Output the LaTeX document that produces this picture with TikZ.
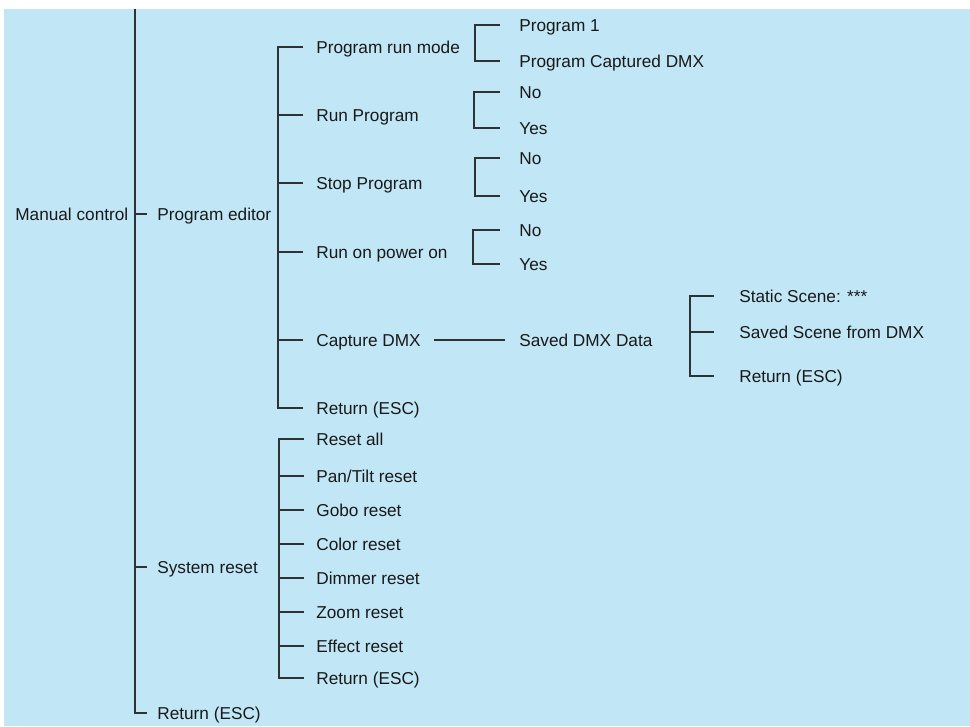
\documentclass[tikz,border=0pt]{standalone}
\usepackage{fontspec}
\setmainfont{Liberation Sans}
\definecolor{menublue}{RGB}{193,230,246}
\definecolor{menuline}{RGB}{45,50,55}
\definecolor{menutext}{RGB}{25,25,25}

\begin{document}
\begin{tikzpicture}[
    entry/.style={anchor=west, inner sep=0pt, text height=8pt, text depth=1pt,
        text=menutext, font=\fontsize{9.8}{11}\selectfont},
    stem/.style={draw=menuline, line width=0.8pt},
    branch/.style={stem, shorten >=#1}, branch/.default=0.26cm,
    bracket/.style={stem, shorten <=#1, shorten >=#1}, bracket/.default=0.26cm]

    % the background
    \useasboundingbox (0,0) rectangle (19.4,-14.52);
    \fill[menublue] (0.08,-0.18) rectangle (19.4,-14.52);

    % x positions of the brackets
    \coordinate (root) at (2.70,-0.18);
    \coordinate (peb) at (5.56,0);
    \coordinate (srb) at (5.58,0);
    \coordinate (prmb) at (9.50,0);
    \coordinate (rpb) at (9.48,0);
    \coordinate (spb) at (9.50,0);
    \coordinate (rob) at (9.46,0);
    \coordinate (sddb) at (13.80,0);

    % first levels
    \node[entry] (mc) at (0.30,-4.28) {Manual control};
    \node[entry] (pe) at (3.14,-4.28) {Program editor};
    \node[entry] (sr) at (3.14,-11.34) {System reset};
    \node[entry] (rt) at (3.14,-14.26) {Return (ESC)};

    % program editor items
    \node[entry] (prm) at (6.32,-0.94) {Program run mode};
    \node[entry] (rp) at (6.32,-2.30) {Run Program};
    \node[entry] (sp) at (6.32,-3.66) {Stop Program};
    \node[entry] (ro) at (6.32,-5.04) {Run on power on};
    \node[entry] (cd) at (6.32,-6.80) {Capture DMX};
    \node[entry] (r1) at (6.32,-8.16) {Return (ESC)};

    % the options
    \node[entry] (p1) at (10.38,-0.50) {Program 1};
    \node[entry] (pcd) at (10.38,-1.22) {Program Captured DMX};
    \node[entry] (rpno) at (10.38,-1.84) {No};
    \node[entry] (rpyes) at (10.38,-2.56) {Yes};
    \node[entry] (spno) at (10.38,-3.16) {No};
    \node[entry] (spyes) at (10.38,-3.92) {Yes};
    \node[entry] (rono) at (10.38,-4.60) {No};
    \node[entry] (royes) at (10.38,-5.28) {Yes};
    \node[entry] (sdd) at (10.38,-6.80) {Saved DMX Data};
    \node[entry] (ss) at (14.78,-5.92) {Static Scene: ***};
    \node[entry] (sf) at (14.78,-6.64) {Saved Scene from DMX};
    \node[entry] (r3) at (14.78,-7.52) {Return (ESC)};

    % system reset items
    \node[entry] (ra) at (6.32,-8.78) {Reset all};
    \node[entry] (pt) at (6.32,-9.52) {Pan/Tilt reset};
    \node[entry] (gr) at (6.32,-10.20) {Gobo reset};
    \node[entry] (cr) at (6.32,-10.88) {Color reset};
    \node[entry] (dr) at (6.32,-11.56) {Dimmer reset};
    \node[entry] (zr) at (6.32,-12.24) {Zoom reset};
    \node[entry] (er) at (6.32,-12.92) {Effect reset};
    \node[entry] (r2) at (6.32,-13.56) {Return (ESC)};

    % draw the tree lines
    \draw[branch=0.2cm] (root) |- (rt.west);
    \foreach \n in {pe,sr}
        \draw[branch=0.2cm] (\n.west -| root) -- (\n.west);

    \draw[bracket] (prm.west) -| (r1.west -| peb) -- (r1.west);
    \foreach \n in {rp,sp,ro,cd}
        \draw[branch] (\n.west -| peb) -- (\n.west);

    \draw[bracket=0.38cm] (p1.west) -| (pcd.west -| prmb) -- (pcd.west);
    \draw[bracket=0.38cm] (rpno.west) -| (rpyes.west -| rpb) -- (rpyes.west);
    \draw[bracket=0.38cm] (spno.west) -| (spyes.west -| spb) -- (spyes.west);
    \draw[bracket=0.38cm] (rono.west) -| (royes.west -| rob) -- (royes.west);

    \draw[stem, shorten <=0.26cm, shorten >=0.28cm] (cd.east) -- (sdd.west);

    \draw[bracket=0.5cm] (ss.west) -| (r3.west -| sddb) -- (r3.west);
    \draw[branch=0.5cm] (sf.west -| sddb) -- (sf.west);

    \draw[bracket=0.24cm] (ra.west) -| (r2.west -| srb) -- (r2.west);
    \foreach \n in {pt,gr,cr,dr,zr,er}
        \draw[branch=0.24cm] (\n.west -| srb) -- (\n.west);
\end{tikzpicture}
\end{document}
